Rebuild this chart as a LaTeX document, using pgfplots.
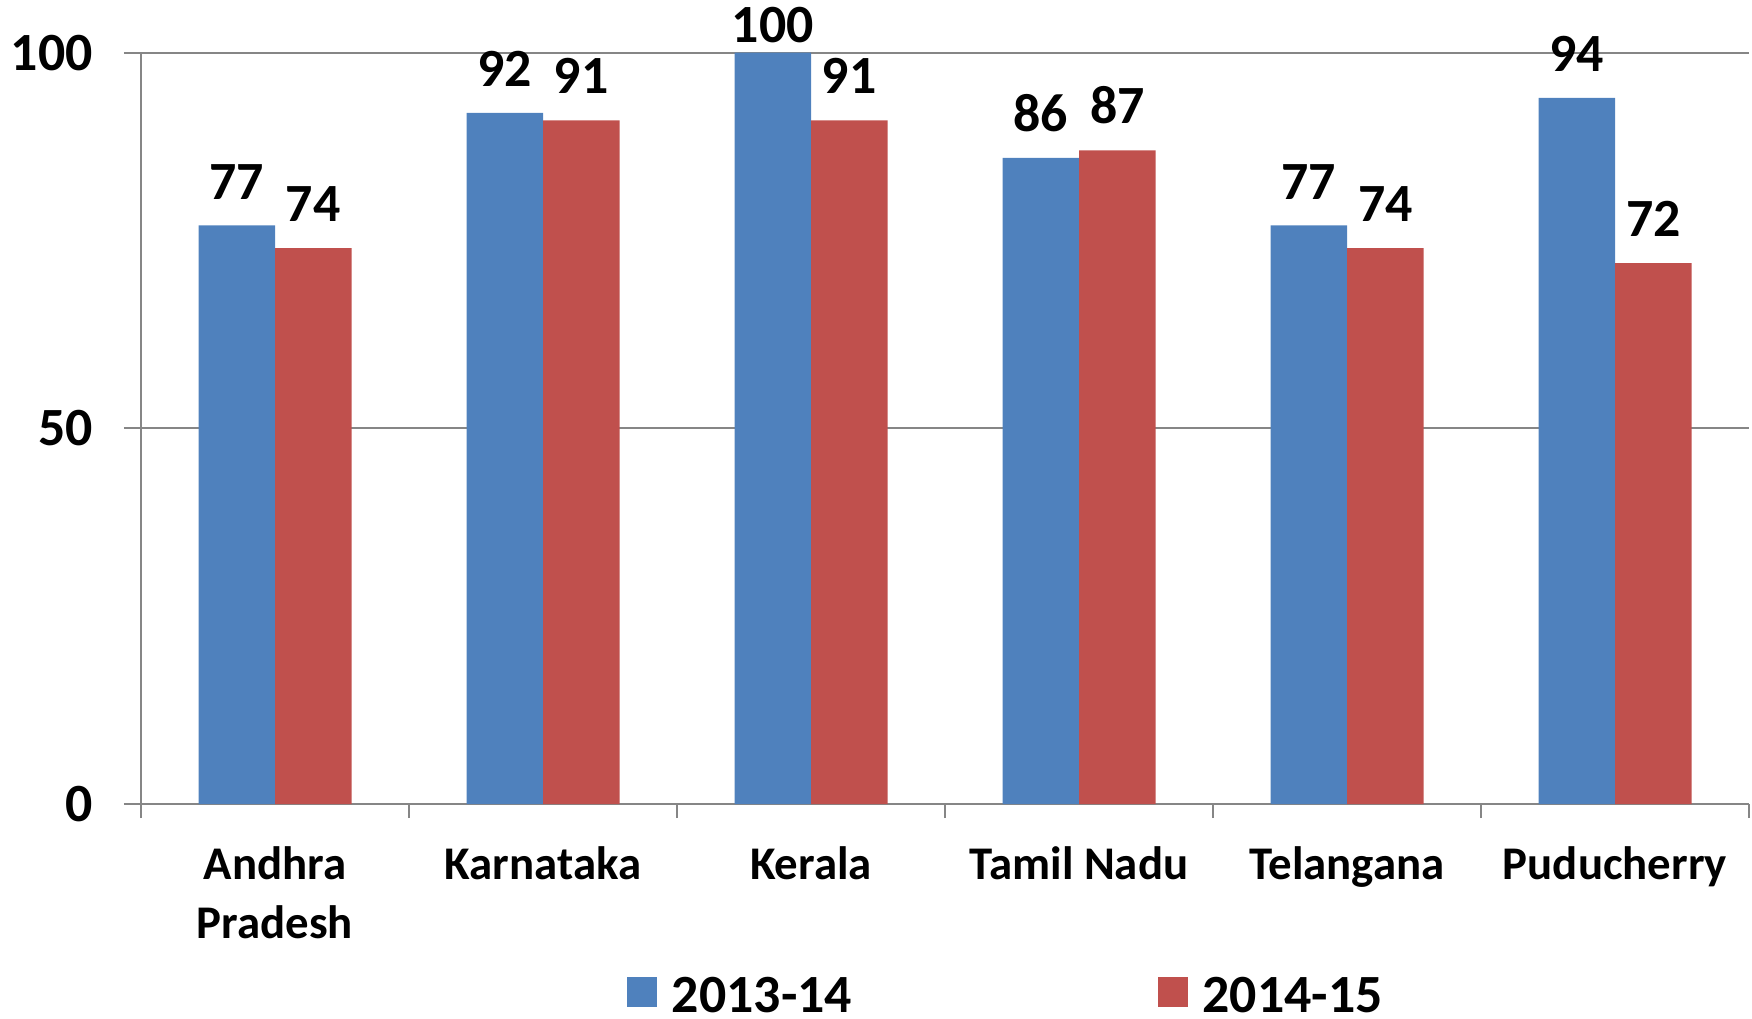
\documentclass[border=0pt]{standalone}
\usepackage{fontspec}
\setmainfont{Carlito}
\usepackage{pgfplots}
\pgfplotsset{compat=1.18}

\definecolor{serA}{HTML}{4F81BD}
\definecolor{serB}{HTML}{C0504D}
\definecolor{gridc}{HTML}{868686}

\pgfplotsset{
  sqlegend/.style={legend image code/.code={\fill[##1] (0bp,-5.3bp) rectangle (15bp,9.7bp);}},
}

\begin{document}
\begin{tikzpicture}
\begin{axis}[
  scale only axis, width=804bp, height=375.65bp,
  xmin=-0.5, xmax=5.5, ymin=0, ymax=100,
  ybar=0pt, bar width=38.25bp,
  /pgf/number format/assume math mode=true,
  axis x line*=bottom, axis y line*=left,
  axis line style={gridc, line width=1bp},
  ymajorgrids, grid style={gridc, line width=1bp},
  ytick={0,50,100},
  xtick={0,...,5},
  xticklabels={{Andhra\\Pradesh}, Karnataka, Kerala, Tamil Nadu, Telangana, Puducherry},
  minor xtick={-0.5,0.5,...,5.5},
  tick align=outside,
  major tick length=8.5bp, minor tick length=7bp,
  major x tick style={draw=none},
  tick style={gridc, line width=1bp},
  yticklabel style={font=\fontsize{27}{30}\selectfont\bfseries, anchor=east, inner sep=0pt, xshift=-15.5bp},
  xticklabel style={font=\fontsize{23.5}{29.5}\selectfont\bfseries, anchor=north, inner sep=0pt, yshift=-12.5bp, align=center},
  visualization depends on={y \as \rawy},
  nodes near coords,
  nodes near coords style={font=\fontsize{27}{30}\selectfont\bfseries, black, anchor=south, inner sep=0pt,
    yshift={ifthenelse(\rawy>99,4.85,13)*1bp}},
  legend columns=2,
  legend style={at={(0.3022,-0.2555)}, anchor=west, draw=none, fill=none,
    inner sep=0pt, outer sep=0pt,
    font=\fontsize{27}{30}\selectfont\bfseries,
    nodes={inner sep=0pt},
    /tikz/every odd column/.append style={column sep=7.5bp},
    /tikz/every even column/.append style={column sep=152.8bp}},
]
\addplot[fill=serA, draw=none, sqlegend] coordinates {
  (0,77) (1,92) (2,100) (3,86) (4,77) (5,94)
};
\addlegendentry{2013-14}
\addplot[fill=serB, draw=none, sqlegend] coordinates {
  (0,74) (1,91) (2,91) (3,87) (4,74) (5,72)
};
\addlegendentry{2014-15}
\end{axis}
\pgfresetboundingbox
\path ([shift={(-70.5bp,-107bp)}]current axis.south west) rectangle ([shift={(1.5bp,26.35bp)}]current axis.north east);
\end{tikzpicture}
\end{document}
